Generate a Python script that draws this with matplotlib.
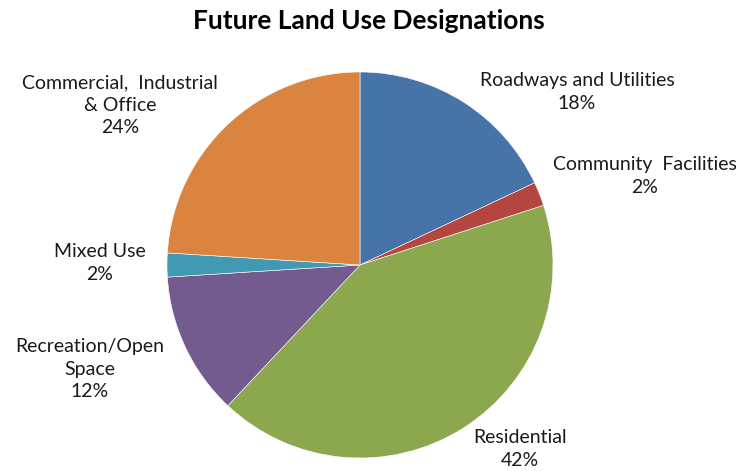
import matplotlib.pyplot as plt

# land use shares, clockwise from 12 o'clock
categories = ['Roadways and Utilities', 'Community  Facilities', 'Residential',
              'Recreation/Open\nSpace', 'Mixed Use', 'Commercial,  Industrial\n& Office']
shares = [18, 2, 42, 12, 2, 24]
colors = ['#4673a8', '#b5463f', '#8ba84e', '#735a8f', '#4199b4', '#db843f']

# label anchor points (data units, pie radius = 1)
label_pos = [(1.124, 0.896), (1.477, 0.461), (0.829, -0.953),
             (-1.399, -0.539), (-1.347, 0.010), (-1.244, 0.829)]

plt.rcParams['font.family'] = ['Lato', 'DejaVu Sans']

fig = plt.figure(figsize=(7.39, 4.71), dpi=100)
ax = fig.add_axes([167 / 739, 13 / 471, 386 / 739, 386 / 471])

ax.pie(shares, colors=colors, startangle=90, counterclock=False, radius=1,
       wedgeprops=dict(edgecolor='white', linewidth=0.4))
ax.set_xlim(-1, 1)
ax.set_ylim(-1, 1)
ax.set_aspect('auto')

for name, val, (x, y) in zip(categories, shares, label_pos):
    ax.text(x, y, name + '\n' + str(val) + '%', ha='center', va='center',
            fontsize=14, linespacing=1.38, color='#1a1a1a', clip_on=False)

fig.text(369 / 739, 1 - 21 / 471, 'Future Land Use Designations',
         ha='center', va='center', fontsize=19, fontweight='bold')

fig.savefig('out.png', dpi=100)
